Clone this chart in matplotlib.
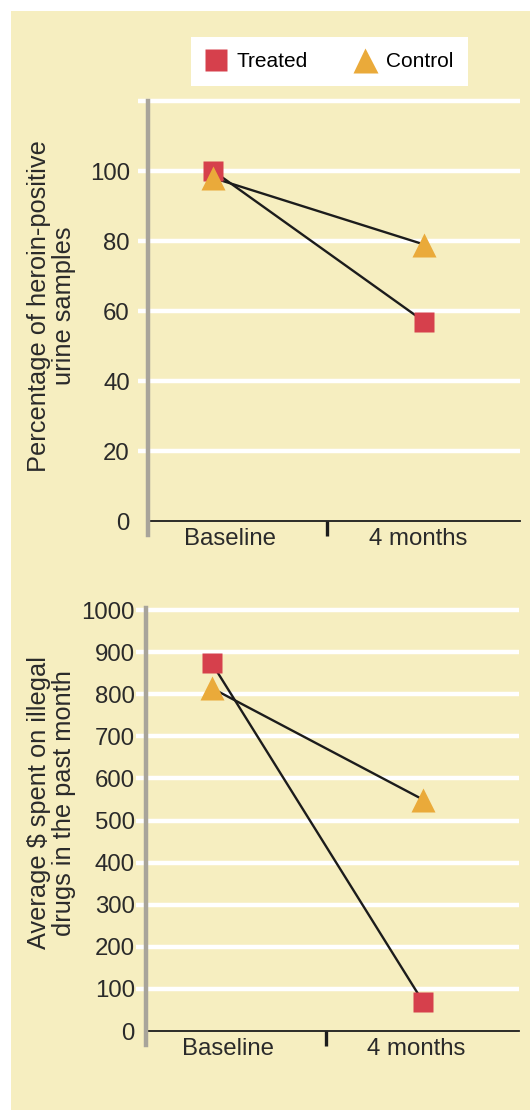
import matplotlib.pyplot as plt
from matplotlib.lines import Line2D
from matplotlib.patches import Rectangle

plt.rcParams['font.family'] = ['Liberation Sans', 'DejaVu Sans']

# data
timepoints = ['Baseline', '4 months']
heroin_treated = [100, 57]
heroin_control = [98, 79]
dollars_treated = [875, 70]
dollars_control = [815, 550]

heroin_ticks = [0, 20, 40, 60, 80, 100, 120]
heroin_labels = ['0', '20', '40', '60', '80', '100', '']
dollar_ticks = [0, 100, 200, 300, 400, 500, 600, 700, 800, 900, 1000]

CREAM = '#F6EEC0'
RED = '#D6404C'
ORANGE = '#EAAA3A'
INK = '#1c1c1c'
SPINE = '#A8A49A'
TEXT = '#2a2a2a'

W, H = 530, 1110
fig = plt.figure(figsize=(W / 100, H / 100), dpi=100)
fig.patch.set_facecolor('white')
fig.add_artist(Rectangle((11 / W, 0), 1 - 11 / W, 1 - 11 / H, transform=fig.transFigure,
                         facecolor=CREAM, edgecolor='none', zorder=0))


def panel(rect, treated, control, yticks, ylabels, ylim, ylabel, ypad, label_xy):
    ax = fig.add_axes(rect)
    ax.patch.set_alpha(0)
    x = [0, 1]
    ax.set_xlim(-0.31, 1.455)
    ax.set_ylim(*ylim)

    # white gridlines that poke a little past the left spine
    grid_vals = [v for v in yticks if v != 0]
    ax.hlines(grid_vals, -0.027, 1, transform=ax.get_yaxis_transform(),
              colors='white', lw=3.2, clip_on=False, zorder=1)

    ax.plot(x, treated, color=INK, lw=1.7, zorder=2)
    ax.plot(x, control, color=INK, lw=1.7, zorder=2)
    ax.plot(x, treated, 's', color=RED, ms=14.5, mec='none', zorder=3)
    ax.plot(x, control, '^', color=ORANGE, ms=17, mec='none', zorder=4)

    for s in ['top', 'right', 'left']:
        ax.spines[s].set_visible(False)
    ax.spines['bottom'].set_color(INK)
    ax.spines['bottom'].set_linewidth(1.3)
    ax.add_line(Line2D([0, 0], [-0.033, 1.0], transform=ax.transAxes, color=SPINE,
                       lw=3.2, clip_on=False, zorder=5))

    ax.set_yticks(yticks)
    ax.set_yticklabels(ylabels)
    ax.tick_params(axis='y', length=0, pad=ypad, labelsize=17.3, labelcolor=TEXT)

    ax.set_xticks([0.08, 0.97])
    ax.set_xticklabels(timepoints)
    ax.tick_params(axis='x', which='major', length=0, pad=5, labelsize=17.3,
                   labelcolor=TEXT)
    ax.set_xticks([0.54], minor=True)
    ax.tick_params(axis='x', which='minor', length=11, width=2.4, color=INK,
                   direction='out')

    ax.set_ylabel(ylabel, fontsize=18.3, color=TEXT, linespacing=1.06)
    ax.yaxis.set_label_coords(*label_xy)
    return ax


ax1 = panel([148 / W, 1 - 521 / H, 372 / W, 420 / H], heroin_treated, heroin_control,
            heroin_ticks, heroin_labels, (0, 120),
            'Percentage of heroin-positive\nurine samples', 13, (-0.194, 0.512))

ax2 = panel([146 / W, 1 - 1031 / H, 373 / W, 423 / H], dollars_treated, dollars_control,
            dollar_ticks, [str(v) for v in dollar_ticks], (0, 1005),
            'Average $ spent on illegal\ndrugs in the past month', 8, (-0.188, 0.54))

handles = [
    Line2D([], [], marker='s', color=RED, ls='none', ms=16, mec='none'),
    Line2D([], [], marker='^', color=ORANGE, ls='none', ms=18, mec='none'),
]
leg = fig.legend(handles, ['Treated', 'Control'], loc='center',
                 bbox_to_anchor=(329.5 / W, 1 - 61.5 / H), ncol=2, frameon=True,
                 fancybox=False, fontsize=15, handlelength=1.0, handletextpad=0.5,
                 columnspacing=2.25, borderpad=0.7)
leg.get_frame().set_facecolor('white')
leg.get_frame().set_edgecolor('none')
leg.get_frame().set_alpha(1)

fig.savefig('out.png', dpi=100, facecolor=fig.get_facecolor())
